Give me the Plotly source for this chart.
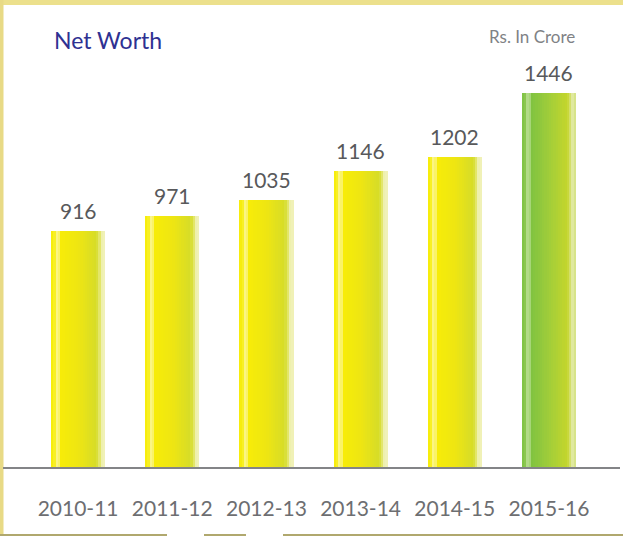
import plotly.graph_objects as go

# ---- data ----
years = ["2010-11", "2011-12", "2012-13", "2013-14", "2014-15", "2015-16"]
net_worth = [916, 971, 1035, 1146, 1202, 1446]
title_text = "Net Worth"
unit_text = "Rs. In Crore"

# ---- geometry helpers (pixel -> paper) ----
W, H = 623, 536
ML, MR, MT, MB = 31, 27, 60, 68
PW, PH = W - ML - MR, H - MT - MB


def px(x):
    return (x - ML) / PW


def py(y):
    return (H - MB - y) / PH


# colour stops across the bar width (position, rgb)
yellow_stops = [(0.0, (247, 236, 0)), (0.07, (248, 240, 40)), (0.12, (252, 248, 175)),
                (0.18, (247, 236, 8)), (0.5, (238, 230, 18)), (0.84, (214, 220, 40)),
                (0.9, (228, 231, 110)), (0.95, (242, 243, 195)), (1.0, (238, 239, 175))]
green_stops = [(0.0, (124, 194, 66)), (0.07, (140, 200, 80)), (0.12, (195, 228, 160)),
               (0.18, (128, 195, 64)), (0.5, (160, 205, 58)), (0.84, (196, 214, 44)),
               (0.9, (212, 224, 110)), (0.95, (228, 236, 175)), (1.0, (205, 222, 110))]


def interp(stops, t):
    for (p0, c0), (p1, c1) in zip(stops, stops[1:]):
        if p0 <= t <= p1:
            f = (t - p0) / (p1 - p0) if p1 > p0 else 0
            return "rgb(%d,%d,%d)" % tuple(round(a + (b - a) * f) for a, b in zip(c0, c1))
    c = stops[-1][1]
    return "rgb(%d,%d,%d)" % c


fig = go.Figure()
N = 24
bw = 0.575
for i in range(N):
    t = (i + 0.5) / N
    cols = [interp(green_stops if k == len(years) - 1 else yellow_stops, t) for k in range(len(years))]
    fig.add_trace(go.Bar(
        x=years, y=net_worth,
        width=bw / N * 1.06, offset=-bw / 2 + i * bw / N,
        marker=dict(color=cols, line=dict(width=0)),
        hoverinfo="skip", showlegend=False,
    ))

# value labels
for yr, v in zip(years, net_worth):
    fig.add_annotation(x=yr, y=v, text=str(v), showarrow=False, yanchor="bottom", yshift=6,
                       font=dict(family="Lato", size=21, color="#58595b"))

# frame decorations
shapes = [
    dict(type="rect", xref="paper", yref="paper", x0=px(0), x1=px(W), y0=py(5), y1=py(0),
         fillcolor="#ece08c", line=dict(width=0), layer="below"),
    dict(type="rect", xref="paper", yref="paper", x0=px(0), x1=px(3.5), y0=py(H), y1=py(0),
         fillcolor="#e8da86", line=dict(width=0), layer="below"),
    dict(type="line", xref="paper", yref="paper", x0=px(3), x1=px(620), y0=py(468), y1=py(468),
         line=dict(color="#838487", width=2)),
]
for a, b in [(0, 167), (204, 246), (283, 623)]:
    shapes.append(dict(type="line", xref="paper", yref="paper", x0=px(a), x1=px(b),
                       y0=py(535), y1=py(535), line=dict(color="#b0a86e", width=2)))

fig.add_annotation(xref="paper", yref="paper", x=px(52), y=py(40), xanchor="left", yanchor="middle",
                   text=title_text, showarrow=False,
                   font=dict(family="Lato", size=23, color="#2e3192"))
fig.add_annotation(xref="paper", yref="paper", x=px(577), y=py(37), xanchor="right", yanchor="middle",
                   text=unit_text, showarrow=False,
                   font=dict(family="Lato", size=17, color="#808285"))

fig.update_layout(
    width=W, height=H,
    margin=dict(l=ML, r=MR, t=MT, b=MB),
    paper_bgcolor="white", plot_bgcolor="white",
    barmode="overlay", bargap=0,
    shapes=shapes,
    xaxis=dict(type="category", showgrid=False, zeroline=False, showline=False, ticks="",
               range=[-0.5, len(years) - 0.5], ticklabelstandoff=26,
               tickfont=dict(family="Lato", size=21, color="#6d6e71")),
    yaxis=dict(range=[0, 1575], visible=False, showgrid=False, zeroline=False),
)

fig.write_html("out.html", config={"displayModeBar": False},
               post_script="document.body.style.margin='0';")
